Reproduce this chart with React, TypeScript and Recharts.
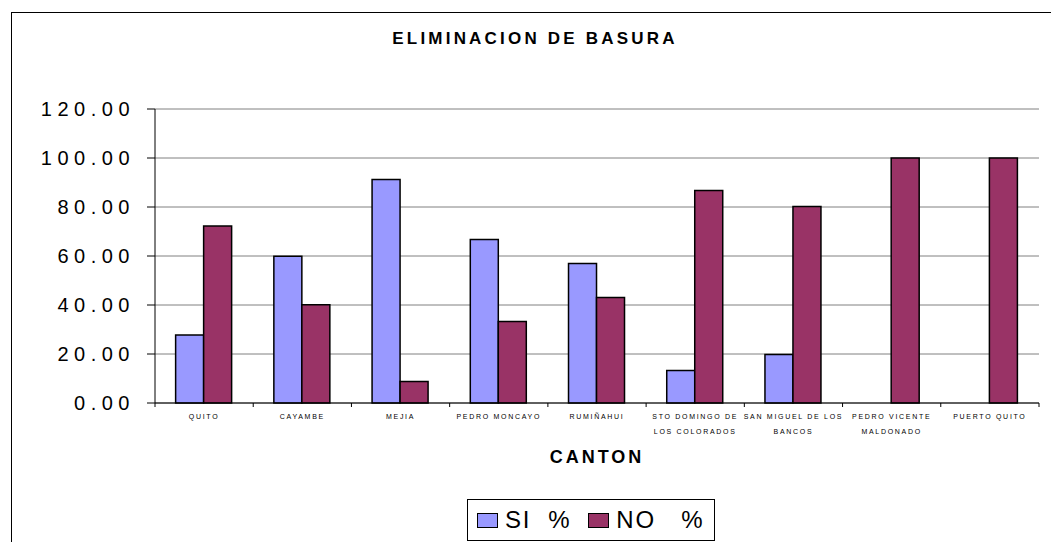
import React from 'react';
import { BarChart, Bar, XAxis, YAxis, CartesianGrid } from 'recharts';

const categories = [
  'QUITO',
  'CAYAMBE',
  'MEJIA',
  'PEDRO MONCAYO',
  'RUMIÑAHUI',
  'STO DOMINGO DE\nLOS COLORADOS',
  'SAN MIGUEL DE LOS\nBANCOS',
  'PEDRO VICENTE\nMALDONADO',
  'PUERTO QUITO',
];
const siValues = [27.8, 59.9, 91.2, 66.7, 56.9, 13.3, 19.8, 0, 0];
const noValues = [72.2, 40.1, 8.8, 33.3, 43.1, 86.7, 80.2, 100, 100];
const yTicks = [0, 20, 40, 60, 80, 100, 120];

const series = [
  { key: 'si', name: 'SI', color: '#9999FF' },
  { key: 'no', name: 'NO', color: '#993366' },
];

const data = categories.map((c, i) => ({ canton: c, si: siValues[i], no: noValues[i] }));

const FONT = '"Liberation Sans", Arial, sans-serif';

function CantonTick(props: any) {
  const { x, y, payload, index, visibleTicksCount } = props;
  const half = payload && payload.offset ? payload.offset : 49.1;
  const lines = String(payload.value).split('\n');
  return (
    <g>
      <line x1={x - half} x2={x - half} y1={y} y2={y + 4} stroke="#000" />
      {index === visibleTicksCount - 1 && (
        <line x1={x + half} x2={x + half} y1={y} y2={y + 4} stroke="#000" />
      )}
      <text x={x} y={y} textAnchor="middle" fontSize={7} fill="#000" fontFamily={FONT} letterSpacing={1.7}>
        {lines.map((l, i) => (
          <tspan key={i} x={x} dy={i === 0 ? 16 : 15}>
            {l}
          </tspan>
        ))}
      </text>
    </g>
  );
}

export default function App() {
  return (
    <div
      style={{
        position: 'absolute',
        left: 0,
        top: 0,
        width: 1051,
        height: 542,
        overflow: 'hidden',
        background: '#fff',
        fontFamily: FONT,
      }}
    >
      <div
        style={{
          position: 'absolute',
          left: 11,
          top: 12,
          width: 1100,
          height: 600,
          border: '1px solid #000',
        }}
      />
      <BarChart
        width={1051}
        height={542}
        data={data}
        margin={{ top: 109, right: 12, left: 0, bottom: 89 }}
        barCategoryGap="21%"
        barGap={0}
        style={{ position: 'absolute', left: 0, top: 0 }}
      >
        <CartesianGrid vertical={false} stroke="#808080" strokeWidth={1} />
        <XAxis
          dataKey="canton"
          height={50}
          interval={0}
          tickSize={0}
          tickMargin={0}
          tickLine={false}
          axisLine={{ stroke: '#000' }}
          tick={<CantonTick />}
        />
        <YAxis
          width={155}
          domain={[0, 120]}
          ticks={yTicks}
          interval={0}
          tickSize={8}
          tickMargin={12}
          tickLine={{ stroke: '#000' }}
          axisLine={{ stroke: '#000' }}
          tickFormatter={(v: number) => v.toFixed(2)}
          tick={{ fontSize: 20, fill: '#000', fontFamily: FONT, letterSpacing: 5.5 }}
        />
        <YAxis
          yAxisId="frame"
          orientation="right"
          width={0}
          tick={false}
          tickLine={false}
          axisLine={{ stroke: '#808080' }}
        />
        {series.map((s) => (
          <Bar
            key={s.key}
            dataKey={s.key}
            name={s.name}
            fill={s.color}
            stroke="#000"
            strokeWidth={1.5}
            isAnimationActive={false}
          />
        ))}
      </BarChart>
      <div
        style={{
          position: 'absolute',
          left: 0,
          width: 1070,
          top: 28,
          textAlign: 'center',
          fontWeight: 'bold',
          fontSize: 17,
          letterSpacing: 3.2,
          lineHeight: '22px',
        }}
      >
        ELIMINACION DE BASURA
      </div>
      <div
        style={{
          position: 'absolute',
          left: 155,
          width: 884,
          top: 446,
          textAlign: 'center',
          fontWeight: 'bold',
          fontSize: 18,
          letterSpacing: 3,
          lineHeight: '22px',
        }}
      >
        CANTON
      </div>
      <div
        style={{
          position: 'absolute',
          left: 467,
          top: 499,
          width: 248,
          height: 42,
          border: '1px solid #000',
          display: 'flex',
          alignItems: 'center',
          paddingLeft: 9,
          boxSizing: 'border-box',
          fontSize: 24,
          letterSpacing: 1.8,
        }}
      >
        {series.map((s, i) => (
          <div key={s.key} style={{ display: 'flex', alignItems: 'center', marginRight: i === 0 ? 17 : 0 }}>
            <span
              style={{
                display: 'inline-block',
                width: 19,
                height: 13,
                background: s.color,
                border: '1px solid #000',
                marginRight: 7,
              }}
            />
            <span style={{ whiteSpace: 'pre' }}>{s.name + (i === 0 ? '  %' : '   %')}</span>
          </div>
        ))}
      </div>
    </div>
  );
}
